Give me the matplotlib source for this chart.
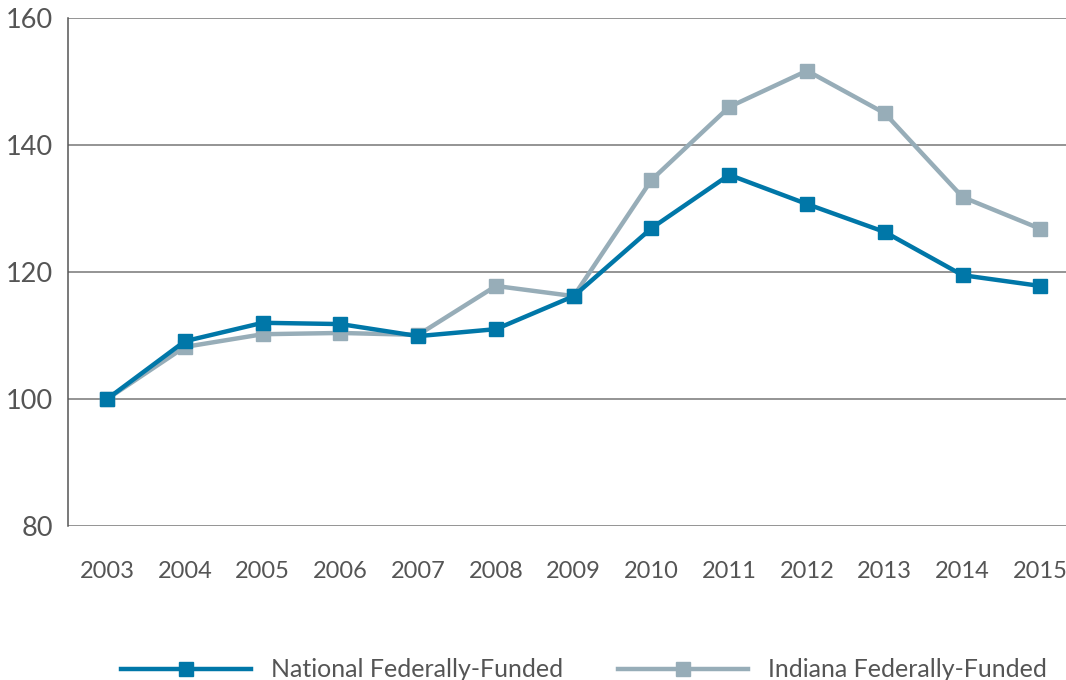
import matplotlib
matplotlib.use('Agg')
import matplotlib.pyplot as plt

# Index values (2003 = 100)
YEARS = [2003, 2004, 2005, 2006, 2007, 2008, 2009, 2010, 2011, 2012, 2013, 2014, 2015]
NATIONAL = [100, 109.1, 112.0, 111.8, 109.9, 111.0, 116.2, 126.9, 135.3, 130.7, 126.3, 119.5, 117.8]
INDIANA = [100, 108.2, 110.2, 110.4, 110.1, 117.8, 116.2, 134.5, 146.0, 151.7, 145.0, 131.8, 126.8]
Y_TICKS = [80, 100, 120, 140, 160]

NATIONAL_COLOR = "#0077a8"
INDIANA_COLOR = "#97adb8"
TEXT_COLOR = "#555555"

plt.rcParams['font.family'] = ['Lato', 'DejaVu Sans']

fig = plt.figure(figsize=(10.66, 6.8), dpi=100)
ax = fig.add_axes([0.064, 0.2265, 0.936, 0.747])

ax.plot(YEARS, INDIANA, color=INDIANA_COLOR, linewidth=3.2, marker="s",
        markersize=10, label="Indiana Federally-Funded", zorder=3)
ax.plot(YEARS, NATIONAL, color=NATIONAL_COLOR, linewidth=3.2, marker="s",
        markersize=10, label="National Federally-Funded", zorder=4)

ax.set_xlim(2002.5, 2015.33)
ax.set_ylim(80, 160)
ax.set_yticks(Y_TICKS)
ax.set_xticks(YEARS)
ax.set_xticklabels([str(y) for y in YEARS])

ax.grid(axis="y", color="#777777", linewidth=1.1)
ax.set_axisbelow(True)
for side in ["top", "right", "bottom"]:
    ax.spines[side].set_visible(False)
ax.spines["left"].set_color("#555555")
ax.spines["left"].set_linewidth(1.1)

ax.tick_params(axis="y", length=0, labelsize=19.5, colors=TEXT_COLOR, pad=11)
ax.tick_params(axis="x", length=0, labelsize=17, colors=TEXT_COLOR, pad=25)

handles, labels = ax.get_legend_handles_labels()
fig.legend(handles[::-1], labels[::-1], loc="lower center", ncol=2,
           bbox_to_anchor=(0.548, -0.035), frameon=False, fontsize=18,
           handlelength=5.2, handletextpad=0.8, columnspacing=2.2,
           labelcolor=TEXT_COLOR)

fig.savefig("out.png", dpi=100)
plt.close(fig)
